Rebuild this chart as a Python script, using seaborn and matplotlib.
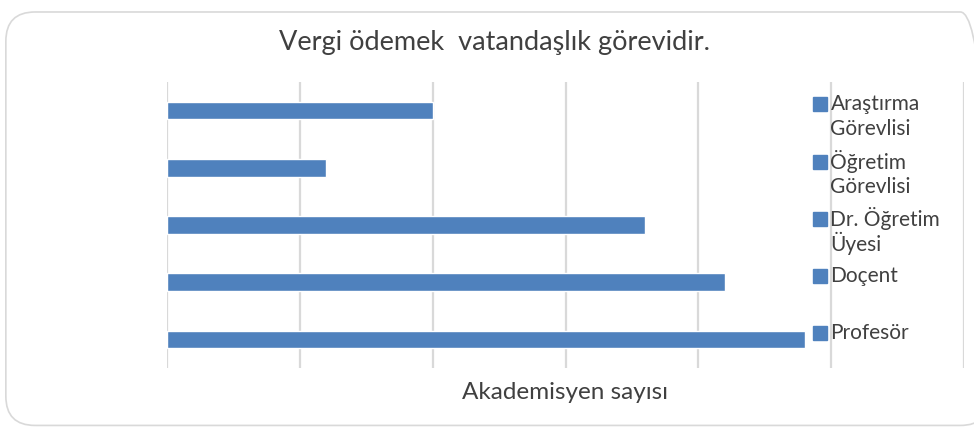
import pandas as pd
import seaborn as sns
import matplotlib.pyplot as plt
import matplotlib.transforms as mtransforms
from matplotlib.patches import FancyBboxPatch

# Data (top to bottom as in the chart)
categories = ["Araştırma Görevlisi", "Öğretim Görevlisi", "Dr. Öğretim Üyesi", "Doçent", "Profesör"]
legend_labels = ["Araştırma\nGörevlisi", "Öğretim\nGörevlisi", "Dr. Öğretim\nÜyesi", "Doçent", "Profesör"]
counts = [20, 12, 36, 42, 48]

df = pd.DataFrame({"unvan": categories, "sayi": counts})

sns.set_theme(style="white")
plt.rcParams['font.family'] = ['Lato', 'DejaVu Sans']

bar_color = "#4F81BD"
grid_color = "#D9D9D9"
text_color = "#404040"

fig = plt.figure(figsize=(9.74, 4.28), dpi=100)
ax = fig.add_axes([0.1715, 0.1402, 0.8182, 0.6682])

sns.barplot(data=df, x="sayi", y="unvan", order=categories, color=bar_color,
            saturation=1, width=0.31, ax=ax)

ax.set_xlim(0, 60)
ax.set_ylim(4.5, -0.5)
ax.set_xticks(range(0, 61, 10))
ax.set_xticklabels([])
ax.set_yticks([])
ax.set_ylabel("")
ax.set_xlabel("")
ax.grid(axis="x", color=grid_color, linewidth=1.6)
ax.set_axisbelow(True)
ax.tick_params(axis="both", length=0)
for s in ax.spines.values():
    s.set_visible(False)

# legend drawn next to each category
trans = mtransforms.blended_transform_factory(ax.transAxes, ax.transData)
for i, lab in enumerate(legend_labels):
    ax.plot([0.8195], [i - 0.11], marker="s", markersize=9.5, color=bar_color,
            transform=trans, clip_on=False, zorder=5)
    ax.text(0.8325, i - 0.11, lab.split("\n")[0], transform=trans, fontsize=15,
            color=text_color, va="center", ha="left", zorder=5)
    if "\n" in lab:
        ax.text(0.8325, i - 0.11 + 0.44, lab.split("\n")[1], transform=trans, fontsize=15,
                color=text_color, va="center", ha="left", zorder=5)

fig.text(0.508, 0.900, "Vergi ödemek  vatandaşlık görevidir.", fontsize=19.5,
         color=text_color, ha="center", va="center")
fig.text(0.580, 0.082, "Akademisyen sayısı", fontsize=17.5,
         color=text_color, ha="center", va="center")

# rounded chart border
border = FancyBboxPatch((0.006, 0.006), 1.01, 0.966, boxstyle="round,pad=0,rounding_size=0.03",
                        transform=fig.transFigure, facecolor="none", edgecolor="#D9D9D9",
                        linewidth=1.2, mutation_aspect=974 / 428, clip_on=False)
fig.patches.append(border)

fig.savefig("out.png", dpi=100)
